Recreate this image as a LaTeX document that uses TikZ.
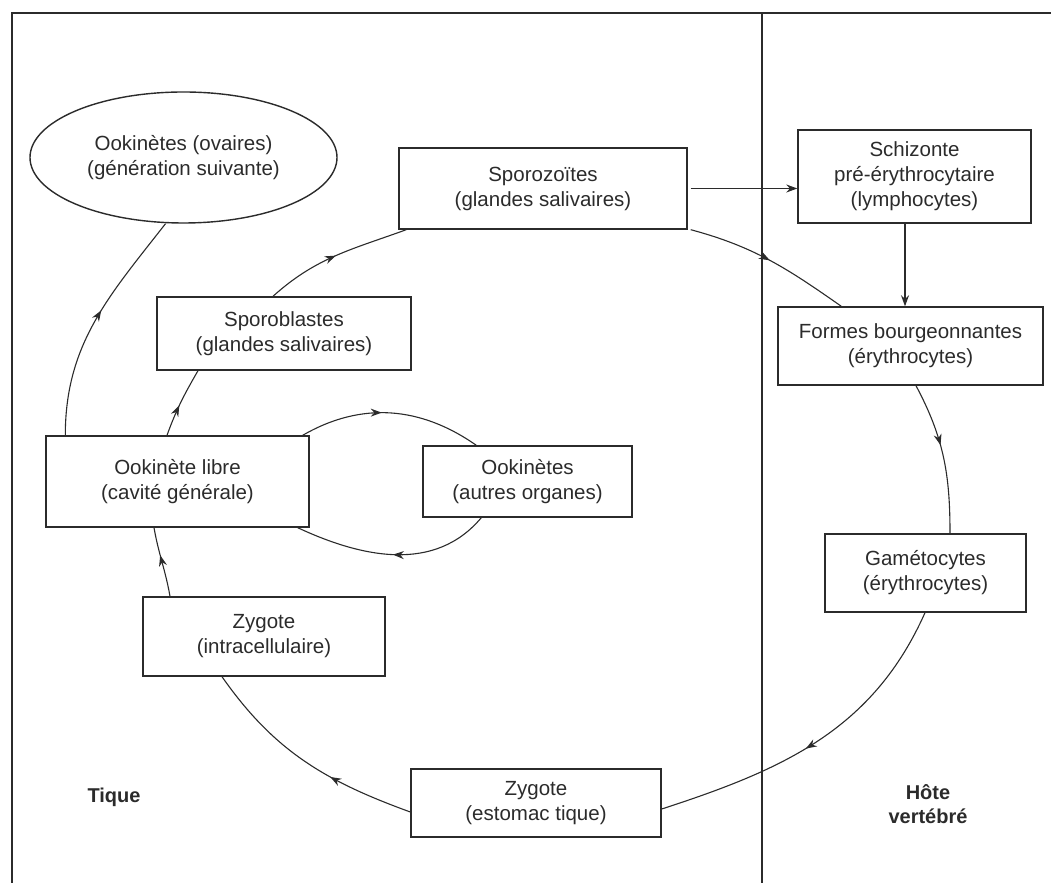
\documentclass[tikz,border=0pt]{standalone}
\usepackage{fontspec}
\setmainfont{Liberation Sans}
\usetikzlibrary{arrows.meta,decorations.markings,shapes.geometric}
\definecolor{ink}{HTML}{2B2B2B}
\begin{document}
\begin{tikzpicture}[x=1pt,y=1pt,
  box/.style={draw=ink, line width=1.4pt, align=center, inner sep=0pt,
    font=\fontsize{20.5}{25}\selectfont, text=ink},
  lbl/.style={align=center, inner sep=0pt, font=\bfseries\fontsize{20}{24}\selectfont, text=ink},
  conn/.style={draw=ink, line width=1.1pt},
  tipped/.style={-{Stealth[length=11pt,width=8pt]}},
  midarrow/.style={postaction={decorate,decoration={markings,
     mark=at position #1 with {\arrow{Stealth[length=11pt,width=8pt]}}}}},
  midarrow/.default=0.5]
\useasboundingbox (0,0) rectangle (1051,883);
% frame
\draw[ink, line width=1.7pt] (1051,870) -- (12,870) -- (12,0);
\draw[ink, line width=1.7pt] (762,870) -- (762,0);
% nodes
\node[box, ellipse, minimum width=307pt, minimum height=131pt] (ell) at (183.5,725.5)
  {Ookinètes (ovaires)\\(génération suivante)};
\node[box, minimum width=288pt, minimum height=81pt] (spz) at (543,694.5)
  {Sporozoïtes\\(glandes salivaires)};
\node[box, minimum width=233pt, minimum height=93pt] (sch) at (914.5,706.5)
  {Schizonte\\pré-érythrocytaire\\(lymphocytes)};
\node[box, minimum width=265pt, minimum height=78pt] (frm) at (910.5,537)
  {Formes bourgeonnantes\\(érythrocytes)};
\node[box, minimum width=201pt, minimum height=78pt] (gam) at (925.5,310)
  {Gamétocytes\\(érythrocytes)};
\node[box, minimum width=250pt, minimum height=68pt] (zge) at (536,80)
  {Zygote\\(estomac tique)};
\node[box, minimum width=242pt, minimum height=79pt] (zgi) at (264,246.5)
  {Zygote\\(intracellulaire)};
\node[box, minimum width=263pt, minimum height=91pt] (ook) at (177.5,401.5)
  {Ookinète libre\\(cavité générale)};
\node[box, minimum width=209pt, minimum height=71pt] (ooa) at (527.5,401.5)
  {Ookinètes\\(autres organes)};
\node[box, minimum width=254pt, minimum height=73pt] (spb) at (284,549.5)
  {Sporoblastes\\(glandes salivaires)};
\node[lbl] (tique) at (114,86) {Tique};
\node[lbl] (hote) at (928,78.5) {Hôte\\vertébré};
% connectors
\draw[conn, midarrow=0.5] ([xshift=-11pt]spb.north) to[out=42,in=200] ([xshift=8pt]spz.south west);
\draw[conn, midarrow=0.5] ([xshift=3pt]spz.south east) to[out=-15,in=145] ([xshift=64pt]frm.north west);
\draw[conn, tipped] ([xshift=-9.5pt]sch.south) -- ([xshift=-5.5pt]frm.north);
\draw[conn, tipped] ([xshift=3pt]spz.east) -- (spz.east -| sch.west);
\draw[conn, midarrow=0.42] ([xshift=5.5pt]frm.south) to[out=-62,in=90] ([xshift=24.5pt]gam.north);
\draw[conn, midarrow=0.54] ([xshift=-0.5pt]gam.south) to[out=246,in=18] ([yshift=-6pt]zge.east);
\draw[conn, midarrow=0.37] ([yshift=-9pt]zge.west) to[out=160,in=-55] ([xshift=-42pt]zgi.south);
\draw[conn, midarrow=0.6] ([xshift=-94pt]zgi.north) to[out=100,in=-80] ([xshift=-23.5pt]ook.south);
\draw[conn, midarrow=0.45] ([xshift=-10.5pt]ook.north) to[out=70,in=-120] ([xshift=-86pt]spb.south);
\draw[conn, midarrow=0.55] ([xshift=20pt]ook.north west) to[out=90,in=232] ([xshift=-18pt]ell.south);
\draw[conn, midarrow=0.45] ([xshift=-7pt]ook.north east) to[out=30,in=145] ([xshift=54pt]ooa.north west);
\draw[conn, midarrow=0.5] ([xshift=59pt]ooa.south west) to[out=-130,in=-25] ([xshift=-12pt]ook.south east);
\end{tikzpicture}
\end{document}
